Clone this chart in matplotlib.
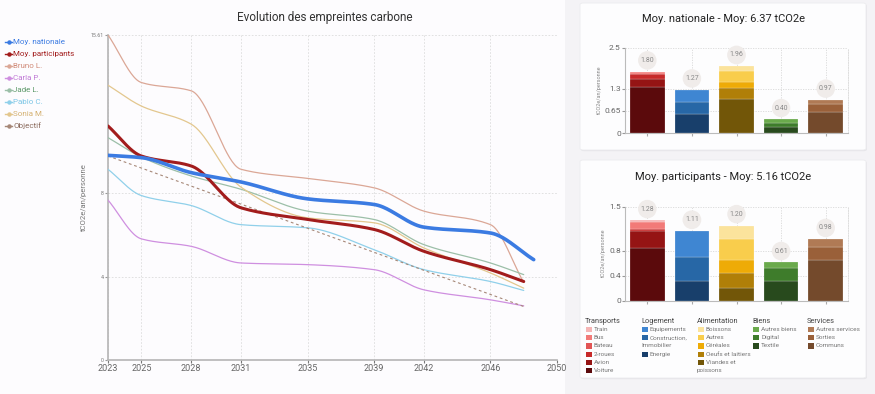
import matplotlib.pyplot as plt
import numpy as np
from matplotlib.patches import FancyBboxPatch, Rectangle
from matplotlib.lines import Line2D

plt.rcParams['font.family'] = ['Roboto', 'DejaVu Sans']

W, H = 875, 394

# ---- line chart data ----
years = [2023, 2025, 2028, 2031, 2035, 2039, 2042, 2046, 2048]
years_nat = [2023, 2025, 2028, 2031, 2035, 2039, 2042, 2046, 2048.6]
nationale = [9.83, 9.72, 9.0, 8.55, 7.74, 7.47, 6.38, 6.1, 4.82]
participants = [11.24, 9.8, 9.32, 7.31, 6.75, 6.27, 5.22, 4.34, 3.77]
bruno = [15.61, 13.33, 12.93, 9.16, 8.72, 8.27, 7.15, 6.5, 3.72]
carla = [7.68, 5.82, 5.46, 4.66, 4.58, 4.34, 3.37, 2.89, 2.6]
jade = [10.68, 9.75, 8.84, 8.2, 7.15, 6.75, 5.54, 4.66, 4.1]
pablo = [9.16, 7.9, 7.42, 6.5, 6.35, 5.3, 4.34, 3.77, 3.34]
sonia = [13.2, 12.2, 11.33, 8.3, 6.83, 6.59, 5.38, 4.18, 3.45]
objectif_years = [2023, 2048]
objectif = [9.8, 2.57]

year_ticks = [2023, 2025, 2028, 2031, 2035, 2039, 2042, 2046, 2050]
value_ticks = [0, 4, 8, 15.61]

# ---- bar chart data ----
categories = ['Transports', 'Logement', 'Alimentation', 'Biens', 'Services']
transports_labels = ['Train', 'Bus', 'Bateau', '2-roues', 'Avion', 'Voiture']
logement_labels = ['Equipements', 'Construction,\nImmobilier', 'Energie']
alimentation_labels = ['Boissons', 'Autres', 'Céréales', 'Oeufs et laitiers', 'Viandes et\npoissons']
biens_labels = ['Autres biens', 'Digital', 'Textile']
services_labels = ['Autres services', 'Sorties', 'Communs']

nat_transports = [0.01, 0.05, 0.01, 0.14, 0.23, 1.36]
nat_logement = [0.35, 0.37, 0.55]
nat_alimentation = [0.15, 0.30, 0.20, 0.31, 1.00]
nat_biens = [0.10, 0.12, 0.18]
nat_services = [0.12, 0.23, 0.62]

part_transports = [0.03, 0.10, 0.01, 0.02, 0.28, 0.84]
part_logement = [0.42, 0.38, 0.31]
part_alimentation = [0.22, 0.33, 0.20, 0.25, 0.20]
part_biens = [0.09, 0.20, 0.32]
part_services = [0.13, 0.20, 0.65]

transports_colors = ['#f5b5b5', '#f27a78', '#e25555', '#c72a2a', '#951414', '#5b0a0c']
logement_colors = ['#3f86d2', '#2767a6', '#183f6b']
alimentation_colors = ['#fbe39c', '#f9cd4c', '#eeab06', '#b07f08', '#725608']
biens_colors = ['#6aaa4c', '#3e7c2b', '#284a1d']
services_colors = ['#b07a55', '#9a6039', '#744a2c']

all_labels = [transports_labels, logement_labels, alimentation_labels, biens_labels, services_labels]
all_colors = [transports_colors, logement_colors, alimentation_colors, biens_colors, services_colors]
nat_values = [nat_transports, nat_logement, nat_alimentation, nat_biens, nat_services]
part_values = [part_transports, part_logement, part_alimentation, part_biens, part_services]


def fx(x):
    return x / W


def fy(y):
    return 1 - y / H


def smooth(x, y, n=40):
    # monotone cubic curve through the points (line drawing only)
    x = np.asarray(x, float)
    y = np.asarray(y, float)
    h = np.diff(x)
    d = np.diff(y) / h
    m = np.zeros_like(y)
    m[0], m[-1] = d[0], d[-1]
    for i in range(1, len(y) - 1):
        if d[i - 1] * d[i] <= 0:
            m[i] = 0
        else:
            w1 = 2 * h[i] + h[i - 1]
            w2 = h[i] + 2 * h[i - 1]
            m[i] = (w1 + w2) / (w1 / d[i - 1] + w2 / d[i])
    xs, ys = [], []
    t = np.linspace(0, 1, n)
    h00 = 2 * t**3 - 3 * t**2 + 1
    h10 = t**3 - 2 * t**2 + t
    h01 = -2 * t**3 + 3 * t**2
    h11 = t**3 - t**2
    for i in range(len(h)):
        xs.append(x[i] + t * h[i])
        ys.append(h00 * y[i] + h10 * h[i] * m[i] + h01 * y[i + 1] + h11 * h[i] * m[i + 1])
    return np.concatenate(xs), np.concatenate(ys)


fig = plt.figure(figsize=(8.75, 3.94), dpi=100)
fig.patch.set_facecolor('#fdfcfe')

# right panel and cards
fig.add_artist(Rectangle((fx(565), 0), fx(310), 1, transform=fig.transFigure,
                         fc='#f4f3f6', ec='none', zorder=-5))
for (x0, y0, x1, y1) in [(580, 3, 866, 150), (580, 160, 866, 378)]:
    fig.add_artist(FancyBboxPatch((fx(x0) + 0.001, fy(y1) - 0.003), fx(x1 - x0), (y1 - y0) / H,
                                  boxstyle='round,pad=0,rounding_size=0.004',
                                  transform=fig.transFigure, fc='#e6e5e9', ec='none', zorder=-4))
    fig.add_artist(FancyBboxPatch((fx(x0), fy(y1)), fx(x1 - x0), (y1 - y0) / H,
                                  boxstyle='round,pad=0,rounding_size=0.004',
                                  transform=fig.transFigure, fc='#fdfdfe', ec='#ececef',
                                  lw=0.6, zorder=-3))

# ---- main line chart ----
ax = fig.add_axes([fx(108), fy(360), fx(557 - 108), (360 - 35) / H])
ax.set_facecolor('none')

series = [
    ('Moy. nationale', years_nat, nationale, '#3b7be2', 2.6, '-'),
    ('Moy. participants', years, participants, '#a21c1c', 2.2, '-'),
    ('Bruno L.', years, bruno, '#dba796', 0.9, '-'),
    ('Carla P.', years, carla, '#cf8fe0', 0.9, '-'),
    ('Jade L.', years, jade, '#9cbfa8', 0.9, '-'),
    ('Pablo C.', years, pablo, '#90d0ea', 0.9, '-'),
    ('Sonia M.', years, sonia, '#e3c78e', 0.9, '-'),
    ('Objectif', objectif_years, objectif, '#a68878', 0.8, (0, (2.5, 2.5))),
]
legend_text_colors = ['#3b7be2', '#a21c1c', '#d08a78', '#c07ad6', '#5e9a6a', '#7cc6e6', '#d4b070', '#8a6a5c']

draw_order = [2, 3, 4, 5, 6, 7, 1, 0]
for k in draw_order:
    name, xs, ys, col, lw, ls = series[k]
    if ls == '-':
        sx, sy = smooth(xs, ys)
    else:
        sx, sy = xs, ys
    ax.plot(sx, sy, color=col, lw=lw, ls=ls, solid_capstyle='round', zorder=3 + (k < 2))

ax.set_xlim(2023, 2050)
ax.set_ylim(0, 15.61)
ax.set_xticks(year_ticks)
ax.set_yticks(value_ticks)
ax.set_yticklabels(['0', '4', '8', '15.61'])
ax.tick_params(axis='x', labelsize=6.5, colors='#777777', length=2, pad=1, labelcolor='#666666')
ax.tick_params(axis='y', labelsize=3.8, colors='#999999', length=2, pad=1, labelcolor='#777777')
ax.grid(True, ls=(0, (2, 2)), color='#dcdcdc', lw=0.6)
for s in ['top', 'right']:
    ax.spines[s].set_visible(False)
for s in ['left', 'bottom']:
    ax.spines[s].set_color('#b5b5b5')
    ax.spines[s].set_linewidth(1.2)
ax.set_ylabel('tCO2e/an/personne', fontsize=5.5, color='#777777', labelpad=3)

fig.text(fx(325), fy(17), 'Evolution des empreintes carbone', ha='center', va='center',
         fontsize=8.5, color='#333333')

# main legend
for i, (name, xs, ys, col, lw, ls) in enumerate(series):
    y = fy(42 + 12 * i)
    fig.add_artist(Line2D([fx(5), fx(12)], [y, y], color=col, lw=1.0, transform=fig.transFigure))
    fig.add_artist(Line2D([fx(8.5)], [y], color=col, marker='o', ms=2.2, transform=fig.transFigure))
    fig.text(fx(13), y, name, ha='left', va='center', fontsize=5.8, color=legend_text_colors[i])

# ---- bar charts ----
def bar_panel(ax, values, ticks, ticklabels):
    for i, (vals, cols) in enumerate(zip(values, all_colors)):
        bottom = 0
        for v, c in zip(vals[::-1], cols[::-1]):
            ax.bar(i, v, bottom=bottom, width=0.78, color=c, edgecolor='#ffffff', lw=0.15, zorder=3)
            bottom += v
        ax.annotate(f'{bottom:.2f}', (i, bottom), xytext=(0, 8.2), textcoords='offset points',
                    ha='center', va='center', fontsize=5, color='#888888', zorder=5,
                    bbox=dict(boxstyle='circle,pad=0.35', fc='#f0ecea', ec='none'))
    ax.set_xlim(-0.5, 4.5)
    ax.set_ylim(0, ticks[-1])
    ax.set_yticks(ticks)
    ax.set_yticklabels(ticklabels)
    ax.set_xticks(range(5))
    ax.set_xticklabels([])
    ax.set_axisbelow(True)
    ax.grid(True, ls=(0, (1.5, 1.5)), color='#d8d8d8', lw=0.6)
    ax.tick_params(axis='y', labelsize=6, colors='#999999', length=2, pad=1, labelcolor='#666666')
    ax.tick_params(axis='x', colors='#aaaaaa', length=2)
    ax.spines['top'].set_visible(False)
    ax.spines['right'].set_linestyle((0, (1.5, 1.5)))
    ax.spines['right'].set_color('#d8d8d8')
    ax.spines['right'].set_linewidth(0.6)
    for s in ['left', 'bottom']:
        ax.spines[s].set_color('#bbbbbb')
        ax.spines[s].set_linewidth(0.8)
    ax.set_ylabel('tCO2e/an/personne', fontsize=4, color='#888888', labelpad=2)
    ax.set_facecolor('none')


ax1 = fig.add_axes([fx(625), fy(133), fx(848 - 625), (133 - 48) / H])
bar_panel(ax1, nat_values, [0, 0.65, 1.3, 2.5], ['0', '0.65', '1.3', '2.5'])
fig.text(fx(723), fy(19), 'Moy. nationale - Moy: 6.37 tCO2e', ha='center', va='center',
         fontsize=8, color='#222222')

ax2 = fig.add_axes([fx(625), fy(300.7), fx(848 - 625), (300.7 - 206.7) / H])
bar_panel(ax2, part_values, [0, 0.4, 0.8, 1.5], ['0', '0.4', '0.8', '1.5'])
fig.text(fx(723), fy(176.5), 'Moy. participants - Moy: 5.16 tCO2e', ha='center', va='center',
         fontsize=8, color='#222222')

# category legend
col_x = [585, 641, 697, 752, 807]
for cat, labels, cols, x0 in zip(categories, all_labels, all_colors, col_x):
    fig.text(fx(x0), fy(321.5), cat, ha='left', va='center', fontsize=5.3, color='#444444')
    y = 329.5
    for lab, c in zip(labels, cols):
        fig.add_artist(Rectangle((fx(x0 + 1), fy(y + 2.6)), fx(6), 5.2 / H, transform=fig.transFigure,
                                 fc=c, ec='none'))
        parts = lab.split('\n')
        fig.text(fx(x0 + 9), fy(y), parts[0], ha='left', va='center', fontsize=4.6, color='#777777')
        for p in parts[1:]:
            y += 8.2
            fig.text(fx(x0), fy(y), p, ha='left', va='center', fontsize=4.6, color='#777777')
        y += 8.2

fig.savefig('out.png', dpi=100, facecolor=fig.get_facecolor())
